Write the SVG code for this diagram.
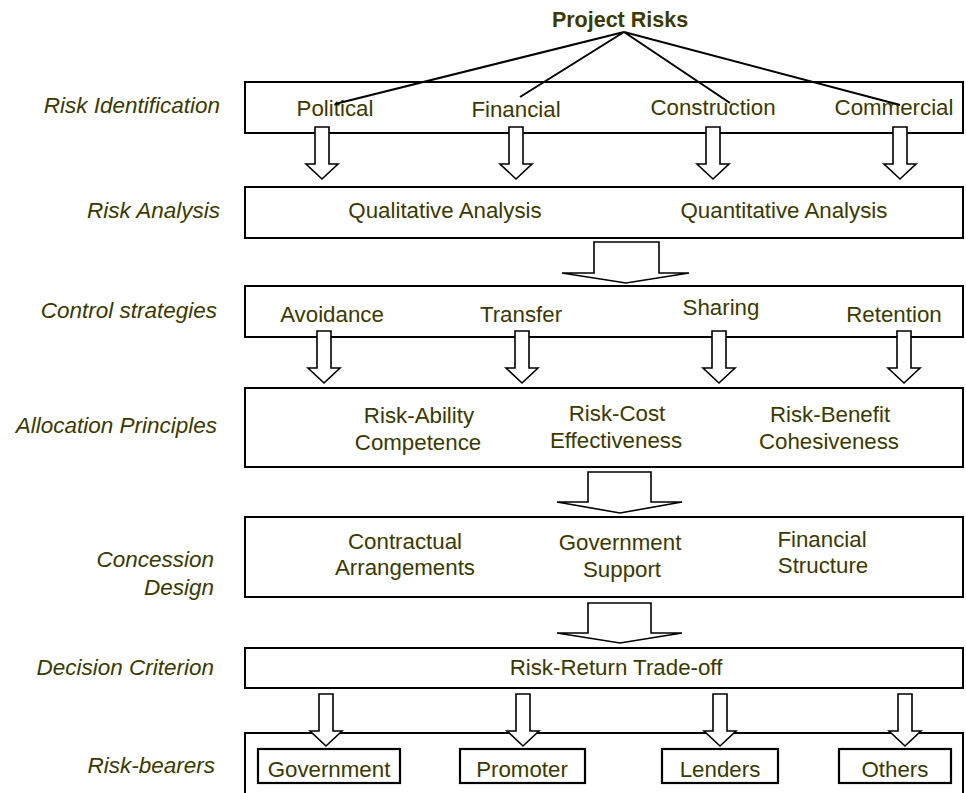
<svg xmlns="http://www.w3.org/2000/svg" width="966" height="793" viewBox="0 0 966 793">
  <style>
    .bg { fill: #ffffff; }
    .box { fill: #ffffff; stroke: #000000; stroke-width: 2; }
    .sub { fill: #ffffff; stroke: #000000; stroke-width: 2.2; }
    .arrow { fill: #ffffff; stroke: #000000; stroke-width: 1.6; stroke-linejoin: miter; }
    .conn { fill: none; stroke: #000000; stroke-width: 2; }
    .lbl { font-family: "Liberation Sans", Arial, sans-serif; font-style: italic; font-size: 22.5px; fill: #3a3a00; text-anchor: end; }
    .txt { font-family: "Liberation Sans", Arial, sans-serif; font-size: 22.3px; fill: #3a3a00; text-anchor: middle; }
    .title { font-family: "Liberation Sans", Arial, sans-serif; font-weight: bold; font-size: 21.5px; fill: #3a3a00; text-anchor: middle; }
  </style>
  <defs>
    <!-- narrow block arrow, origin at top centre of the shaft -->
    <path id="sarrow" class="arrow" d="M-7,0 H7 V37 H16 L0,52 L-16,37 H-7 Z"/>
  </defs>

  <rect class="bg" x="0" y="0" width="966" height="793"/>

  <!-- stage labels -->
  <g id="labels">
    <text class="lbl" x="220" y="113">Risk Identification</text>
    <text class="lbl" x="220" y="218">Risk Analysis</text>
    <text class="lbl" x="217" y="318">Control strategies</text>
    <text class="lbl" x="217" y="433">Allocation Principles</text>
    <text class="lbl" x="214" y="567">Concession</text>
    <text class="lbl" x="214" y="595">Design</text>
    <text class="lbl" x="214" y="675">Decision Criterion</text>
    <text class="lbl" x="215" y="773">Risk-bearers</text>
  </g>

  <g id="project-risks">
    <text class="title" x="620" y="27">Project Risks</text>
  </g>

  <g id="risk-identification">
    <rect class="box" x="245" y="82" width="718" height="51"/>
    <text class="txt" x="335" y="116">Political</text>
    <text class="txt" x="516" y="117">Financial</text>
    <text class="txt" x="713" y="115">Construction</text>
    <text class="txt" x="894" y="115">Commercial</text>
  </g>

  <g id="risk-analysis">
    <rect class="box" x="245" y="187" width="718" height="51"/>
    <text class="txt" x="445" y="218">Qualitative Analysis</text>
    <text class="txt" x="784" y="218">Quantitative Analysis</text>
  </g>

  <g id="control-strategies">
    <rect class="box" x="245" y="286" width="718" height="51"/>
    <text class="txt" x="332" y="322">Avoidance</text>
    <text class="txt" x="521" y="322">Transfer</text>
    <text class="txt" x="721" y="315">Sharing</text>
    <text class="txt" x="894" y="322">Retention</text>
  </g>

  <g id="allocation-principles">
    <rect class="box" x="245" y="388" width="718" height="79"/>
    <text class="txt" x="419" y="423">Risk-Ability</text>
    <text class="txt" x="418" y="450">Competence</text>
    <text class="txt" x="617" y="421">Risk-Cost</text>
    <text class="txt" x="616" y="448">Effectiveness</text>
    <text class="txt" x="830" y="422">Risk-Benefit</text>
    <text class="txt" x="829" y="449">Cohesiveness</text>
  </g>

  <g id="concession-design">
    <rect class="box" x="245" y="517" width="718" height="80"/>
    <text class="txt" x="405" y="549">Contractual</text>
    <text class="txt" x="405" y="575">Arrangements</text>
    <text class="txt" x="620" y="550">Government</text>
    <text class="txt" x="622" y="577">Support</text>
    <text class="txt" x="822" y="547">Financial</text>
    <text class="txt" x="823" y="573">Structure</text>
  </g>

  <g id="decision-criterion">
    <rect class="box" x="245" y="648" width="718" height="40"/>
    <text class="txt" x="616" y="675">Risk-Return Trade-off</text>
  </g>

  <g id="risk-bearers">
    <rect class="box" x="245" y="733" width="718" height="70"/>
  </g>

  <!-- connectors: tree lines and block arrows -->
  <g id="connectors">
    <path class="conn" d="M624,32 L335,104 M624,32 L520,97 M624,32 L730,103 M624,32 L900,105"/>

    <use href="#sarrow" x="322" y="127"/>
    <use href="#sarrow" x="516" y="127"/>
    <use href="#sarrow" x="713" y="127"/>
    <use href="#sarrow" x="900" y="127"/>

    <path class="arrow" d="M594,242 H659 V273 H689 L626,283 L562,273 H594 Z"/>

    <use href="#sarrow" x="324" y="331"/>
    <use href="#sarrow" x="522" y="331"/>
    <use href="#sarrow" x="719" y="331"/>
    <use href="#sarrow" x="904" y="331"/>

    <path class="arrow" d="M588,472 H651 V502 H682 L620,513 L557,502 H588 Z"/>
    <path class="arrow" d="M588,603 H651 V633 H682 L620,643 L557,633 H588 Z"/>

    <use href="#sarrow" x="326" y="694"/>
    <use href="#sarrow" x="523" y="694"/>
    <use href="#sarrow" x="720" y="694"/>
    <use href="#sarrow" x="905" y="694"/>
  </g>

  <g id="government">
    <rect class="sub" x="258" y="749" width="142" height="34"/>
    <text class="txt" x="329" y="777">Government</text>
  </g>
  <g id="promoter">
    <rect class="sub" x="460" y="749" width="125" height="34"/>
    <text class="txt" x="522" y="777">Promoter</text>
  </g>
  <g id="lenders">
    <rect class="sub" x="662" y="749" width="116" height="34"/>
    <text class="txt" x="720" y="777">Lenders</text>
  </g>
  <g id="others">
    <rect class="sub" x="839" y="749" width="112" height="34"/>
    <text class="txt" x="895" y="777">Others</text>
  </g>
</svg>
